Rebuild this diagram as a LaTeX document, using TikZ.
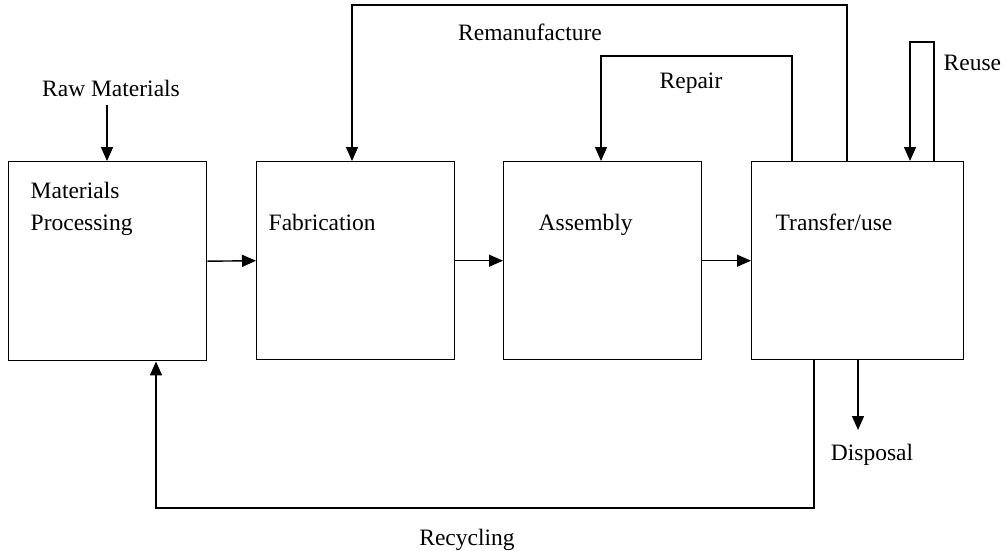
\documentclass[tikz,border=0pt]{standalone}
\usepackage{fontspec}
\setmainfont{Liberation Serif}
\usetikzlibrary{arrows.meta}
\begin{document}
\begin{tikzpicture}[x=1pt,y=-1pt,
  line width=1.4pt,
  stage/.style={draw, line width=1.4pt, inner sep=0pt, anchor=north west},
  lbl/.style={font=\fontsize{23.5}{28}\selectfont, inner sep=0pt},
  arr/.style={-{Triangle[length=14pt,width=12pt]}}]
\useasboundingbox (0,0) rectangle (1007,550);

% process stages
\node[stage, minimum width=198pt, minimum height=199pt] (mp)  at (8,161) {};
\node[stage, minimum width=198pt, minimum height=198pt] (fab) at (256,161) {};
\node[stage, minimum width=198pt, minimum height=198pt] (asm) at (503,161) {};
\node[stage, minimum width=212pt, minimum height=198pt] (use) at (751,161) {};

% stage titles
\node[lbl, anchor=base west] (t1) at (30,198) {Materials};
\node[lbl, anchor=base west] (t2) at (30,230) {Processing};
\node[lbl, anchor=base west] (t3) at (268,230) {Fabrication};
\node[lbl, anchor=base west] (t4) at (538,230) {Assembly};
\node[lbl, anchor=base west] (t5) at (775,230) {Transfer/use};

% flow labels
\node[lbl, anchor=base] (raw)  at (111,96) {Raw Materials};
\node[lbl, anchor=base] (reman) at (530,40) {Remanufacture};
\node[lbl, anchor=base] (rep)  at (691,88) {Repair};
\node[lbl, anchor=base west] (reu) at (943,70) {Reuse};
\node[lbl, anchor=base] (disp) at (872,460) {Disposal};
\node[lbl, anchor=base] (recy) at (467,545) {Recycling};

% main flow
\draw[arr] (mp.east) -- (fab.west);
\draw[arr] (fab.east) -- (asm.west);
\draw[arr] (asm.east) -- (use.west);

% raw material input
\coordinate (rawin) at (107,105);
\draw[arr] (rawin) -- (rawin |- mp.north);

% remanufacture loop
\coordinate (remA) at (847,5);
\coordinate (remB) at (352,5);
\draw[arr] (remA |- use.north) -- (remA) -- (remB) -- (remB |- fab.north);

% repair loop
\coordinate (repA) at (792,56);
\coordinate (repB) at (601,56);
\draw[arr] (repA |- use.north) -- (repA) -- (repB) -- (repB |- asm.north);

% reuse loop
\coordinate (reuA) at (934,42);
\coordinate (reuB) at (910,42);
\draw[arr] (reuA |- use.north) -- (reuA) -- (reuB) -- (reuB |- use.north);

% disposal
\coordinate (dispA) at (858,430);
\draw[arr] (dispA |- use.south) -- (dispA);

% recycling loop
\coordinate (recA) at (814,508);
\coordinate (recB) at (156,508);
\draw[arr] (recA |- use.south) -- (recA) -- (recB) -- (recB |- mp.south);
\end{tikzpicture}
\end{document}
